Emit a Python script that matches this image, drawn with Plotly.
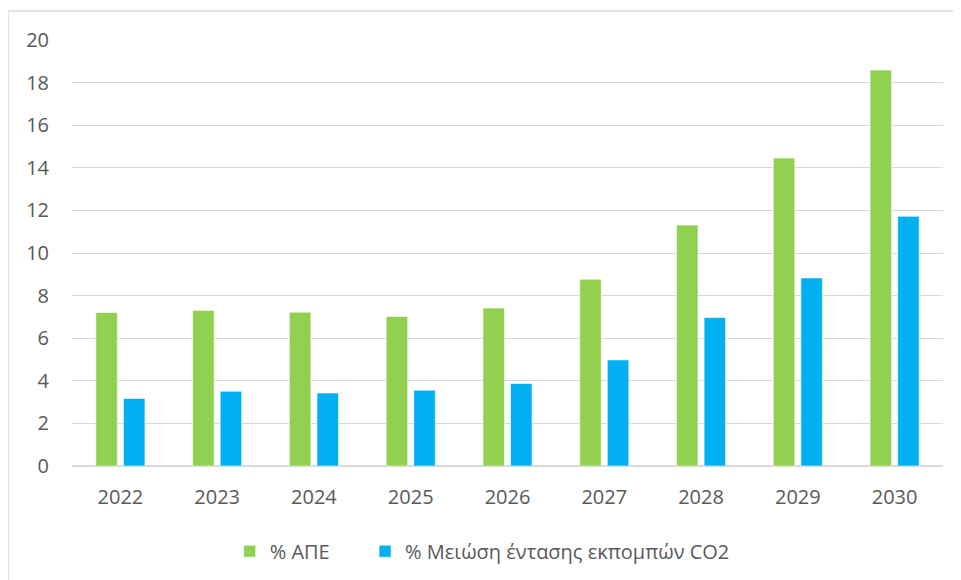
import plotly.graph_objects as go

years = ["2022", "2023", "2024", "2025", "2026", "2027", "2028", "2029", "2030"]
ape = [7.21, 7.30, 7.22, 7.02, 7.42, 8.77, 11.31, 14.46, 18.59]
co2 = [3.17, 3.51, 3.43, 3.56, 3.87, 4.98, 6.97, 8.83, 11.72]

GREEN = "#92D050"
BLUE = "#00B0F0"
TEXT = "#595959"
GRID = "#D9D9D9"
FONT = "Open Sans"

fig = go.Figure()
fig.add_trace(go.Bar(
    x=years, y=ape, name="% ΑΠΕ", legend="legend",
    marker=dict(color=GREEN, line=dict(color="white", width=0.6))
))
fig.add_trace(go.Bar(
    x=years, y=co2, name="% Μειώση έντασης εκπομπών CO2", legend="legend2",
    marker=dict(color=BLUE, line=dict(color="white", width=0.6))
))

# the page body has an 8px margin, so the figure is shrunk by that much
fig.update_layout(
    width=953, height=572,
    margin=dict(l=64, r=18, t=32, b=114, autoexpand=False),
    paper_bgcolor="white", plot_bgcolor="white",
    font=dict(family=FONT, size=20, color=TEXT),
    barmode="group", bargap=0.43, bargroupgap=0.22,
    showlegend=True,
    legend=dict(
        orientation="h", x=0.181, xanchor="left", y=-0.2, yanchor="middle",
        font=dict(size=20, color=TEXT),
    ),
    legend2=dict(
        orientation="h", x=0.3365, xanchor="left", y=-0.2, yanchor="middle",
        font=dict(size=20, color=TEXT),
    ),
    xaxis=dict(showline=False, ticks="", ticklabelstandoff=17),
    yaxis=dict(
        range=[0, 20], dtick=2, showgrid=True, gridcolor=GRID, gridwidth=1.3,
        zeroline=True, zerolinecolor=GRID, zerolinewidth=1.5,
        showline=False, ticks="", ticklabelstandoff=22,
    ),
    shapes=[dict(
        type="rect", xref="paper", yref="paper",
        x0=-0.0735, x1=1.05, y0=-0.4, y1=1.068,
        line=dict(color=GRID, width=1.5), fillcolor="rgba(0,0,0,0)", layer="below",
    )],
)

fig.write_html("out.html")
